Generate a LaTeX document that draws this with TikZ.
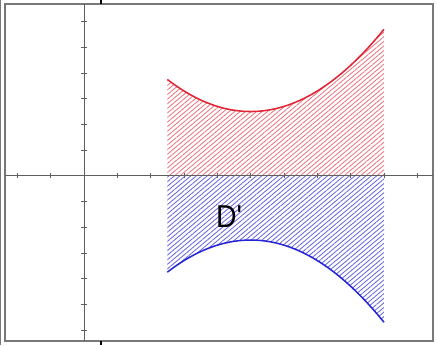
\documentclass[tikz,border=0pt]{standalone}
\usepackage{fontspec}
\setmainfont{Liberation Sans}
\usetikzlibrary{patterns.meta}
\definecolor{CurveRed}{RGB}{225,35,50}
\definecolor{CurveBlue}{RGB}{35,35,215}
\definecolor{HatchRed}{RGB}{232,115,125}
\definecolor{HatchBlue}{RGB}{100,100,220}
\definecolor{AxisGray}{RGB}{95,95,95}
\definecolor{FrameGray}{RGB}{120,120,120}
\tikzset{
  frame/.style={draw=FrameGray,line width=1.6pt},
  axis/.style={draw=AxisGray,line width=0.85pt},
  tick/.style={draw=AxisGray,line width=0.6pt},
  upper/.style={pattern={Lines[angle=40,distance=3pt,line width=0.7pt]},pattern color=HatchRed},
  lower/.style={pattern={Lines[angle=40,distance=3pt,line width=0.7pt]},pattern color=HatchBlue},
  curve/.style={line width=1.3pt,smooth,samples=50},
  lbl/.style={inner sep=0pt,font=\fontsize{27}{29}\selectfont,xscale=0.9},
}

\begin{document}
\begin{tikzpicture}[x=1cm,y=0.771cm]
\useasboundingbox (-2.52,-6.59) rectangle (10.59,6.84);
% frame
\draw[frame] (-2.37,-6.43) rectangle (10.47,6.68);
\draw[draw=FrameGray,line width=0.6pt] (-2.50,-6.59) -- (-2.50,6.84);
% hatched region D'
\fill[upper] (2.5,0) -- plot[domain=2.5:9,curve] (\x,{0.2*(\x-5)^2+2.5}) -- (9,0) -- cycle;
\fill[lower] (2.5,0) -- plot[domain=2.5:9,curve] (\x,{-0.2*(\x-5)^2-2.5}) -- (9,0) -- cycle;
% axes
\draw[axis] (-2.37,0) -- (10.47,0);
\draw[axis] (0,-6.43) -- (0,6.68);
\foreach \i in {-2,...,10}
  \draw[tick] (\i,0) ++(0,-2.2pt) -- ++(0,4.4pt);
\foreach \j in {-6,...,6}
  \draw[tick] (0,\j) ++(-2.2pt,0) -- ++(4.4pt,0);
% boundary curves
\draw[CurveRed,curve] plot[domain=2.5:9] (\x,{0.2*(\x-5)^2+2.5});
\draw[CurveBlue,curve] plot[domain=2.5:9] (\x,{-0.2*(\x-5)^2-2.5});
\node[lbl] (dlabel) at (4.35,-1.59) {D\textquotesingle};
% cut marks
\draw[black,line width=1pt] (0.51,6.84) -- (0.51,6.68);
\draw[black,line width=1pt] (0.51,-6.43) -- (0.51,-6.59);
\end{tikzpicture}
\end{document}
